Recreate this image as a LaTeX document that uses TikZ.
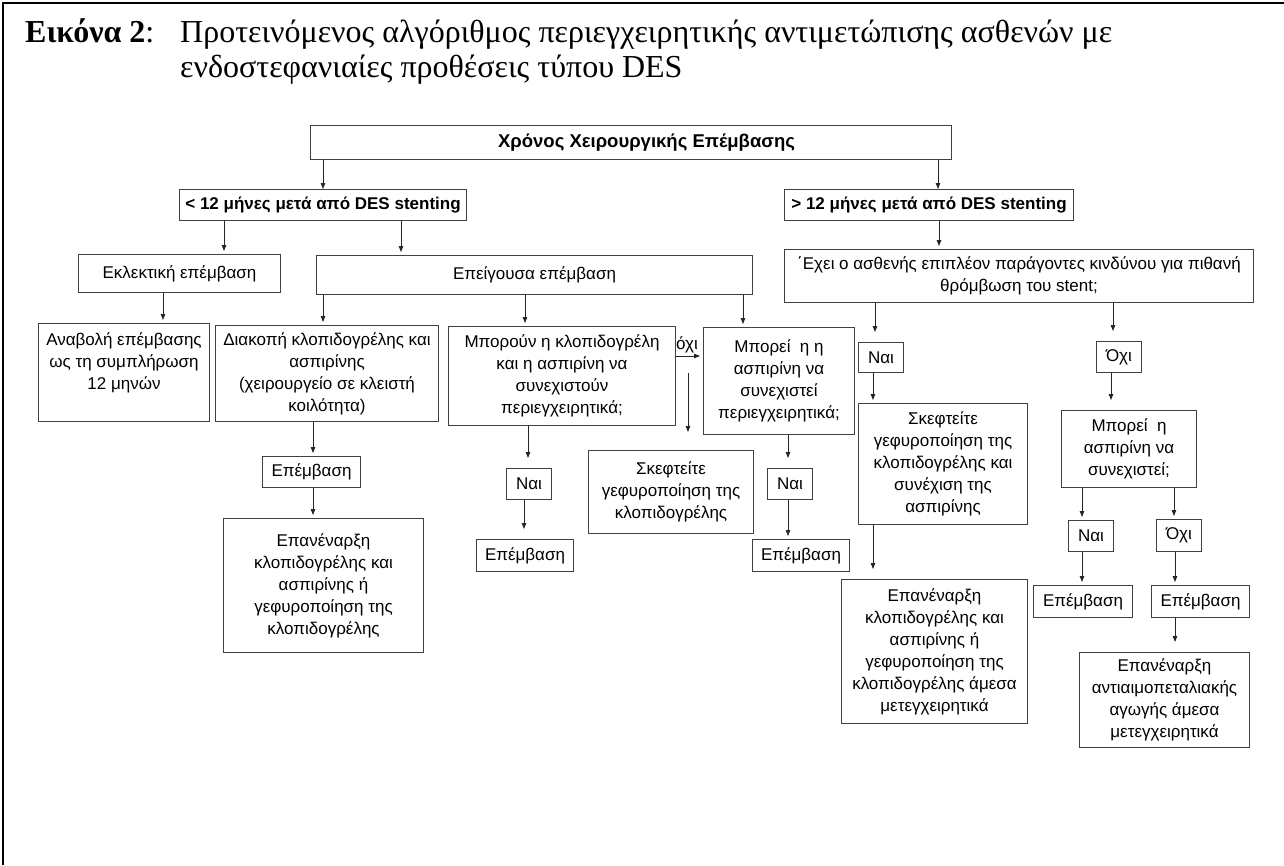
\documentclass[tikz,border=0pt]{standalone}
\usepackage{fontspec}
\setmainfont{Liberation Serif}
\setsansfont{Liberation Sans}
\usetikzlibrary{arrows.meta}

\tikzset{
    box/.style={draw=black!75, line width=1pt, anchor=north west, align=center, inner sep=0pt,
        font=\sffamily\fontsize{17}{22}\selectfont},
    hbox/.style={box, font=\sffamily\bfseries\fontsize{17}{22}\selectfont},
    arr/.style={draw=black!85, line width=0.8pt, -{Triangle[length=6pt,width=4.5pt]}, shorten >=3pt},
    gap/.style={shorten >=10pt},
    lbl/.style={font=\sffamily\fontsize{17}{22}\selectfont, inner sep=0pt},
    captxt/.style={anchor=base west, inner sep=0pt, font=\fontsize{32}{36}\selectfont},
}

\begin{document}
\begin{tikzpicture}[x=1pt,y=-1pt]
    \useasboundingbox (0,0) rectangle (1284,865);
    % frame and caption
    \draw[line width=2.2pt] (3,865) -- (3,3) -- (1284,3);
    \node[captxt] (capno) at (25,42) {\textbf{Εικόνα 2}:};
    \node[captxt] (capA) at (180,42) {Προτεινόμενος αλγόριθμος περιεγχειρητικής αντιμετώπισης ασθενών με};
    \node[captxt] (capB) at (180,77) {ενδοστεφανιαίες προθέσεις τύπου DES};

    % top levels
    \node[hbox, minimum width=641, minimum height=34, font=\sffamily\bfseries\fontsize{18.5}{22}\selectfont] (time) at (310,125) {\hspace*{31pt}Χρόνος Χειρουργικής Επέμβασης};
    \node[hbox, minimum width=287, minimum height=31] (less) at (179,189) {< 12 μήνες μετά από DES stenting};
    \node[hbox, minimum width=289, minimum height=31] (more) at (784,189) {> 12 μήνες μετά από DES stenting};

    % left branch
    \node[box, minimum width=202, minimum height=38] (elect) at (78,254) {Εκλεκτική επέμβαση};
    \node[box, minimum width=436, minimum height=39] (urgent) at (316,255) {Επείγουσα επέμβαση};
    \node[box, minimum width=171, minimum height=98] (delay) at (38,323) {Αναβολή επέμβασης\\ως τη συμπλήρωση\\12 μηνών\\ \mbox{}};
    \node[box, minimum width=223, minimum height=96] (stop) at (215,325) {Διακοπή κλοπιδογρέλης και\\ασπιρίνης\\(χειρουργείο σε κλειστή\\κοιλότητα)};
    \node[box, minimum width=227, minimum height=99] (both) at (448,326) {Μπορούν η κλοπιδογρέλη\\και η ασπιρίνη να\\συνεχιστούν\\περιεγχειρητικά;};
    \node[box, minimum width=151, minimum height=107] (asp) at (703,327) {Μπορεί\ \ η η\\ασπιρίνη να\\συνεχιστεί\\περιεγχειρητικά;};
    \node[lbl] (no) at (687,345) {όχι};
    \node[box, minimum width=98, minimum height=31] (opA) at (262,456) {Επέμβαση};
    \node[box, minimum width=200, minimum height=134] (restA) at (223,518) {Επανέναρξη\\κλοπιδογρέλης και\\ασπιρίνης ή\\γεφυροποίηση της\\κλοπιδογρέλης};
    \node[box, minimum width=45, minimum height=31] (yesA) at (506,468) {Ναι};
    \node[box, minimum width=97, minimum height=32] (opB) at (476,539) {Επέμβαση};
    \node[box, minimum width=165, minimum height=83] (bridgeA) at (588,450) {Σκεφτείτε\\γεφυροποίηση της\\κλοπιδογρέλης};
    \node[box, minimum width=45, minimum height=31] (yesB) at (767,468) {Ναι};
    \node[box, minimum width=97, minimum height=32] (opC) at (752,539) {Επέμβαση};
    \coordinate (freeA) at (688,373);
    \coordinate (freeB) at (688,432);

    % right branch
    \node[box, minimum width=469, minimum height=53] (risk) at (784,249) {΄Εχει ο ασθενής επιπλέον παράγοντες κινδύνου για πιθανή\\θρόμβωση του stent;};
    \node[box, minimum width=45, minimum height=30] (yesR) at (858,342) {Ναι};
    \node[box, minimum width=45, minimum height=31] (noR) at (1096,341) {Όχι};
    \node[box, minimum width=169, minimum height=121] (bridgeB) at (858,403) {Σκεφτείτε\\γεφυροποίηση της\\κλοπιδογρέλης και\\συνέχιση της\\ασπιρίνης};
    \node[box, minimum width=186, minimum height=144] (restB) at (841,579) {Επανέναρξη\\κλοπιδογρέλης και\\ασπιρίνης ή\\γεφυροποίηση της\\κλοπιδογρέλης άμεσα\\μετεγχειρητικά};
    \node[box, minimum width=135, minimum height=77] (aspB) at (1061,410) {Μπορεί\ \ η\\ασπιρίνη να\\συνεχιστεί;};
    \node[box, minimum width=45, minimum height=31] (yesC) at (1068,520) {Ναι};
    \node[box, minimum width=45, minimum height=32] (noC) at (1156,519) {Όχι};
    \node[box, minimum width=99, minimum height=32] (opD) at (1033,585) {Επέμβαση};
    \node[box, minimum width=98, minimum height=32] (opE) at (1151,585) {Επέμβαση};
    \node[box, minimum width=170, minimum height=95] (restC) at (1079,652) {Επανέναρξη\\αντιαιμοπεταλιακής\\αγωγής άμεσα\\μετεγχειρητικά};

    % connectors
    \draw[arr, shorten >=0pt] (time.south -| 323,0) -- (less.north -| 323,0);
    \draw[arr, shorten >=0pt] (time.south -| 938,0) -- (more.north -| 938,0);
    \draw[arr] (less.south -| 224,0) -- (elect.north -| 224,0);
    \draw[arr] (less.south -| 401,0) -- (urgent.north -| 401,0);
    \draw[arr] (more.south -| 939,0) -- (risk.north -| 939,0);
    \draw[arr] (elect.south -| 163,0) -- (delay.north -| 163,0);
    \draw[arr] (urgent.south -| 323,0) -- (stop.north -| 323,0);
    \draw[arr] (urgent.south -| 525,0) -- (both.north -| 525,0);
    \draw[arr] (urgent.south -| 743,0) -- (asp.north -| 743,0);
    \draw[arr] (stop.south -| 313,0) -- (opA.north -| 313,0);
    \draw[arr] (opA.south -| 313,0) -- (restA.north -| 313,0);
    \draw[arr, gap] (both.south -| 528,0) -- (yesA.north -| 528,0);
    \draw[arr, gap] (yesA.south -| 524,0) -- (opB.north -| 524,0);
    \draw[arr] (both.east |- 0,356) -- (asp.west |- 0,356);
    \draw[arr, shorten >=0pt] (freeA) -- (freeB);
    \draw[arr, gap] (asp.south -| 788,0) -- (yesB.north -| 788,0);
    \draw[arr] (yesB.south -| 788,0) -- (opC.north -| 788,0);
    \draw[arr, gap] (risk.south -| 875,0) -- (yesR.north -| 875,0);
    \draw[arr, gap] (risk.south -| 1113,0) -- (noR.north -| 1113,0);
    \draw[arr] (yesR.south -| 873,0) -- (bridgeB.north -| 873,0);
    \draw[arr, gap] (bridgeB.south -| 873,0) -- (restB.north -| 873,0);
    \draw[arr, gap] (noR.south -| 1111,0) -- (aspB.north -| 1111,0);
    \draw[arr] (aspB.south -| 1082,0) -- (yesC.north -| 1082,0);
    \draw[arr] (aspB.south -| 1174,0) -- (noC.north -| 1174,0);
    \draw[arr] (yesC.south -| 1082,0) -- (opD.north -| 1082,0);
    \draw[arr] (noC.south -| 1175,0) -- (opE.north -| 1175,0);
    \draw[arr, gap] (opE.south -| 1175,0) -- (restC.north -| 1175,0);
\end{tikzpicture}
\end{document}
